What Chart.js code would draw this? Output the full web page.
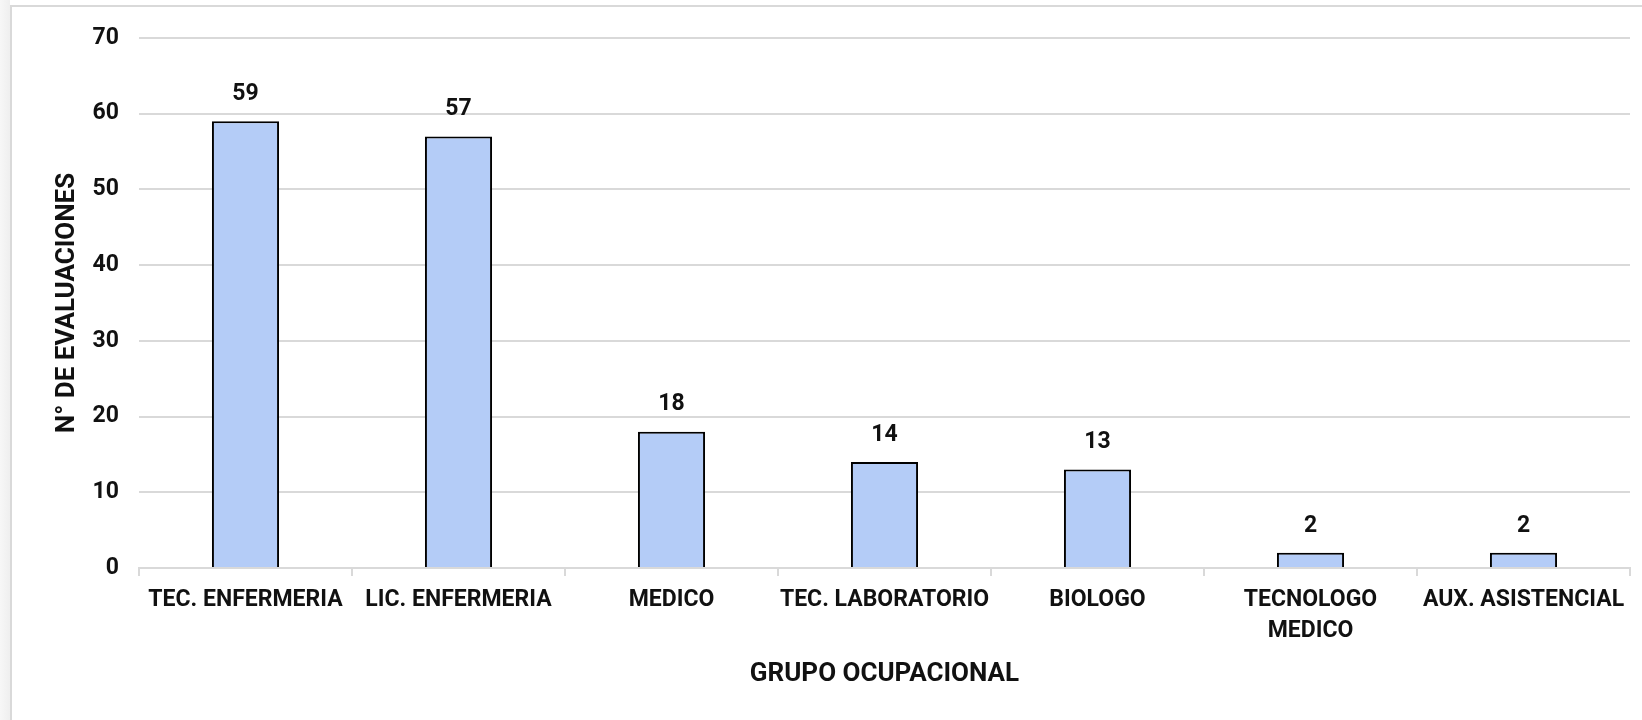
<!DOCTYPE html>
<html>
<head>
<meta charset="utf-8">
<script src="https://cdn.jsdelivr.net/npm/chart.js@4.4.1/dist/chart.umd.min.js"></script>
<style>
  html, body { margin: 0; padding: 0; background: #fff; }
  body { width: 1642px; height: 720px; position: relative; overflow: hidden; }
  .strip { position: absolute; left: 0; top: 0; width: 10px; height: 720px;
           background: linear-gradient(to right, #f7f7f7, #efefef); }
  .frame { position: absolute; left: 10px; top: 5px; width: 1640px; height: 720px;
           border-top: 2px solid #d9d9d9; border-left: 2px solid #d9d9d9; }
  #wrap { position: absolute; left: 0; top: 0; width: 1642px; height: 720px; }
</style>
</head>
<body>
<div class="strip"></div>
<div class="frame"></div>
<div id="wrap"><canvas id="barChart"></canvas></div>
<script>
// Datos
const categories = [
    'TEC. ENFERMERIA',
    'LIC. ENFERMERIA',
    'MEDICO',
    'TEC. LABORATORIO',
    'BIOLOGO',
    ['TECNOLOGO', 'MEDICO'],
    'AUX. ASISTENCIAL'
];
const evaluaciones = [59, 57, 18, 14, 13, 2, 2];
const yTicks = [0, 10, 20, 30, 40, 50, 60, 70];

const FONT = 'Roboto';

// Etiquetas encima de cada barra
const valueLabels = {
    id: 'valueLabels',
    afterDatasetsDraw(chart) {
        const ctx = chart.ctx;
        const meta = chart.getDatasetMeta(0);
        ctx.save();
        ctx.font = 'bold 23px ' + FONT;
        ctx.fillStyle = '#111';
        ctx.textAlign = 'center';
        ctx.textBaseline = 'middle';
        meta.data.forEach((bar, i) => {
            ctx.fillText(evaluaciones[i], bar.x, bar.y - 27);
        });
        ctx.restore();
    }
};

const ctx = document.getElementById('barChart');

new Chart(ctx, {
    type: 'bar',
    data: {
        labels: categories,
        datasets: [{
            data: evaluaciones,
            backgroundColor: '#b4ccf7',
            borderColor: '#000',
            borderWidth: 2,
            borderSkipped: 'bottom',
            barPercentage: 0.315,
            categoryPercentage: 1
        }]
    },
    options: {
        responsive: true,
        maintainAspectRatio: false,
        animation: false,
        layout: {
            padding: { left: 52, right: 12, top: 38, bottom: 30 }
        },
        plugins: {
            legend: { display: false },
            tooltip: { enabled: false }
        },
        scales: {
            x: {
                border: { display: true, color: '#d9d9d9', width: 2 },
                grid: {
                    offset: true,
                    drawOnChartArea: false,
                    drawTicks: true,
                    tickLength: 8,
                    color: '#d9d9d9',
                    lineWidth: 2
                },
                ticks: {
                    color: '#111',
                    font: { family: FONT, weight: 'bold', size: 23, lineHeight: 1.35 },
                    padding: 9,
                    maxRotation: 0,
                    autoSkip: false
                },
                title: {
                    display: true,
                    text: 'GRUPO OCUPACIONAL',
                    color: '#111',
                    font: { family: FONT, weight: 'bold', size: 26 },
                    padding: 0
                },
                afterFit: scale => { scale.height = 122; }
            },
            y: {
                min: 0,
                max: 70,
                afterBuildTicks: scale => {
                    scale.ticks = yTicks.map(v => ({ value: v }));
                },
                border: { display: false },
                grid: {
                    color: '#d9d9d9',
                    lineWidth: 2,
                    drawTicks: false
                },
                ticks: {
                    color: '#111',
                    font: { family: FONT, weight: 'bold', size: 23 },
                    padding: 20
                },
                title: {
                    display: true,
                    text: 'N° DE EVALUACIONES',
                    color: '#111',
                    font: { family: FONT, weight: 'bold', size: 26 },
                    padding: 0
                },
                afterFit: scale => { scale.width = 87; }
            }
        }
    },
    plugins: [valueLabels]
});
</script>
</body>
</html>
